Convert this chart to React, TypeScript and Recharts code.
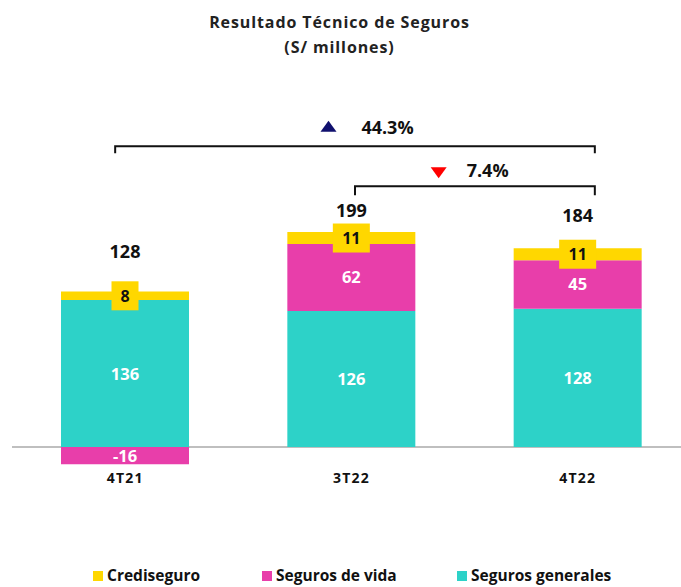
import React from 'react';
import { BarChart, Bar, XAxis, YAxis, LabelList, ReferenceLine, Legend } from 'recharts';

// ---- data ----
const categories = ['4T21', '3T22', '4T22'];
const segurosGenerales = [136, 126, 128];
const segurosDeVida = [-16, 62, 45];
const crediseguro = [8, 11, 11];
const totals = [128, 199, 184];

// variation annotations
const variationFrom = ['4T21', '3T22'];
const variationTo = ['4T22', '4T22'];
const variationLabels = ['44.3%', '7.4%'];
const variationUp = [true, false];
const variationLevel = [278.5, 241.5];

const seriesNames = ['Crediseguro', 'Seguros de vida', 'Seguros generales'];

// ---- styles ----
const YELLOW = '#FFD700';
const PINK = '#E83EAA';
const TEAL = '#2DD2C8';
const FONT = '"Open Sans", Lato, sans-serif';
const seriesColors = [YELLOW, PINK, TEAL];
const legendItemLeft = [93, 262, 457];
const totalLabelGap = [40, 22, 33];
const annotationStyle = [
  { left: -10, right: 17, tick: 7, triDx: -23, triDy: -20, textDx: 36, textDy: -19, color: '#10106E' },
  { left: 3.5, right: 17, tick: 9, triDx: -26, triDy: -13.5, textDx: 23, textDy: -16, color: '#FF0000' },
];

const data = categories.map((name, i) => ({
  name,
  generales: segurosGenerales[i],
  vida: segurosDeVida[i],
  credi: crediseguro[i],
  total: totals[i],
}));

const getBox = (p: any) => {
  const vb = p.viewBox ?? p;
  return { x: Number(vb.x ?? p.x), y: Number(vb.y ?? p.y), width: Number(vb.width ?? p.width), height: Number(vb.height ?? p.height) };
};

const whiteLabel = (p: any) => {
  const { x, y, width, height } = getBox(p);
  return (
    <text x={x + width / 2} y={y + height / 2} dy="0.36em" textAnchor="middle" fill="#fff" fontFamily={FONT} fontWeight={700} fontSize={16.5}>
      {p.value}
    </text>
  );
};

const crediLabel = (p: any) => {
  const { x, y, width, height } = getBox(p);
  const cx = x + width / 2;
  const cy = y + height / 2;
  const w = 17 + 10 * String(p.value).length;
  const h = 29;
  return (
    <g>
      <rect x={cx - w / 2} y={cy - h / 2} width={w} height={h} fill={YELLOW} />
      <text x={cx} y={cy} dy="0.36em" textAnchor="middle" fill="#111" fontFamily={FONT} fontWeight={700} fontSize={16}>
        {p.value}
      </text>
    </g>
  );
};

const totalLabel = (p: any) => {
  const { x, y, width, height } = getBox(p);
  const top = Math.min(y, y + height);
  const gap = totalLabelGap[p.index ?? 0] ?? 30;
  return (
    <text x={x + width / 2} y={top - gap} dy="0.36em" textAnchor="middle" fill="#111" fontFamily={FONT} fontWeight={700} fontSize={18}>
      {p.value}
    </text>
  );
};

const CategoryTick = (p: any) => (
  <text x={p.x} y={p.y + 1} dy="0.36em" textAnchor="middle" fill="#111" fontFamily={FONT} fontWeight={700} fontSize={14} letterSpacing={1.2}>
    {p.payload.value}
  </text>
);

const makeBracket = (i: number) => (p: any) => {
  const s = annotationStyle[i];
  const x1 = p.x1 + s.left;
  const x2 = p.x2 + s.right;
  const y = p.y1;
  const mid = (p.x1 + p.x2) / 2;
  const tx = mid + s.triDx;
  const ty = y + s.triDy;
  const up = variationUp[i];
  const tri = up
    ? `M${tx - 8},${ty + 5.5} L${tx + 8},${ty + 5.5} L${tx},${ty - 5.5} Z`
    : `M${tx - 8},${ty - 5.5} L${tx + 8},${ty - 5.5} L${tx},${ty + 5.5} Z`;
  return (
    <g>
      <path d={`M${x1},${y + s.tick} V${y} H${x2} V${y + s.tick}`} fill="none" stroke="#111" strokeWidth={2} />
      <path d={tri} fill={s.color} />
      <text x={mid + s.textDx} y={y + s.textDy} dy="0.36em" textAnchor="middle" fill="#111" fontFamily={FONT} fontWeight={700} fontSize={18}>
        {variationLabels[i]}
      </text>
    </g>
  );
};

const LegendContent = () => (
  <div style={{ position: 'relative', height: 19, fontFamily: FONT, fontWeight: 700, fontSize: 15.5, color: '#111', lineHeight: '19px' }}>
    {seriesNames.map((n, i) => (
      <div key={n} style={{ position: 'absolute', left: legendItemLeft[i], top: 0, display: 'flex', alignItems: 'center', whiteSpace: 'nowrap' }}>
        <span style={{ display: 'inline-block', width: 10, height: 10, background: seriesColors[i], marginRight: 4 }} />
        <span>{n}</span>
      </div>
    ))}
  </div>
);

export default function App() {
  return (
    <div style={{ position: 'fixed', left: 0, top: 0, width: 681, height: 587, overflow: 'hidden', background: '#fff' }}>
      <div
        style={{
          position: 'absolute', left: 0, top: 10, width: 679, textAlign: 'center',
          fontFamily: FONT, fontWeight: 700, fontSize: 16, lineHeight: '25px', color: '#222', letterSpacing: 0.9,
        }}
      >
        <div>Resultado Técnico de Seguros</div>
        <div>(S/ millones)</div>
      </div>
      <div style={{ position: 'absolute', left: 0, top: 0 }}>
        <BarChart
          width={700}
          height={587}
          data={data}
          stackOffset="sign"
          margin={{ top: 123, right: 9, bottom: 88.4, left: 12 }}
        >
          <XAxis dataKey="name" axisLine={false} tickLine={false} interval={0} height={30} tick={<CategoryTick />} />
          <YAxis hide domain={[-20, 300]} />
          <ReferenceLine y={0} stroke="#BFBFBF" strokeWidth={2} zIndex={100} />
          <Bar dataKey="generales" stackId="s" fill={TEAL} barSize={128} isAnimationActive={false}>
            <LabelList dataKey="generales" content={whiteLabel} />
          </Bar>
          <Bar dataKey="vida" stackId="s" fill={PINK} barSize={128} isAnimationActive={false}>
            <LabelList dataKey="vida" content={whiteLabel} />
          </Bar>
          <Bar dataKey="credi" stackId="s" fill={YELLOW} barSize={128} isAnimationActive={false}>
            <LabelList dataKey="credi" content={crediLabel} />
            <LabelList dataKey="total" content={totalLabel} />
          </Bar>
          {variationLabels.map((lab, i) => (
            <ReferenceLine
              key={lab}
              segment={[{ x: variationFrom[i], y: variationLevel[i] }, { x: variationTo[i], y: variationLevel[i] }]}
              ifOverflow="visible"
              shape={makeBracket(i)}
            />
          ))}
          <Legend
            layout="horizontal"
            verticalAlign="middle"
            align="center"
            wrapperStyle={{ top: 566, left: 0, width: 681 }}
            content={<LegendContent />}
          />
        </BarChart>
      </div>
    </div>
  );
}
